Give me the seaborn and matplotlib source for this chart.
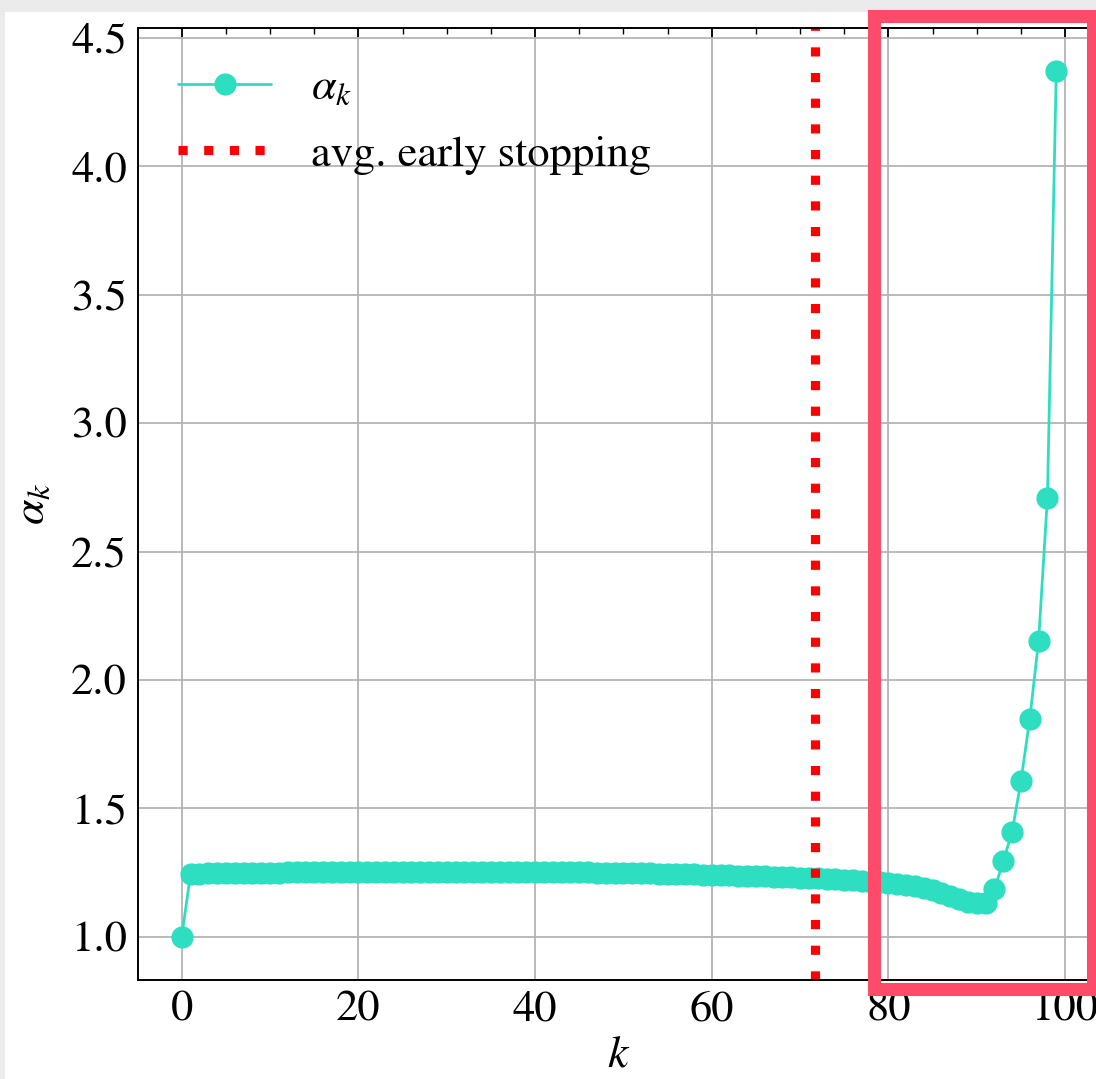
import numpy as np
import pandas as pd
import matplotlib
matplotlib.use("Agg")
import matplotlib.pyplot as plt
from matplotlib.patches import Rectangle
import seaborn as sns

# ---- data ----
k_values = list(range(100))
alpha_values = [
    1.000,
    1.245, 1.246, 1.247, 1.247, 1.248, 1.248, 1.249, 1.249, 1.250, 1.250,
    1.250, 1.251, 1.251, 1.251, 1.251, 1.252, 1.252, 1.252, 1.252, 1.252,
    1.252, 1.252, 1.253, 1.253, 1.253, 1.253, 1.253, 1.253, 1.253, 1.253,
    1.253, 1.253, 1.253, 1.253, 1.253, 1.253, 1.253, 1.253, 1.253, 1.253,
    1.252, 1.252, 1.252, 1.251, 1.251, 1.251, 1.250, 1.250, 1.249, 1.249,
    1.248, 1.248, 1.247, 1.246, 1.246, 1.245, 1.244, 1.243, 1.242, 1.241,
    1.240, 1.239, 1.238, 1.237, 1.236, 1.235, 1.234, 1.232, 1.231, 1.230,
    1.228, 1.227, 1.225, 1.223, 1.222, 1.220, 1.218, 1.215, 1.213, 1.210,
    1.206, 1.202, 1.197, 1.190, 1.181, 1.171, 1.160, 1.148, 1.137, 1.130,
    1.130, 1.184, 1.294, 1.408, 1.606, 1.848, 2.153, 2.710, 4.370,
]
early_stop_k = 71.7
series_label = r"$\alpha_k$"
vline_label = "avg. early stopping"
x_label = r"$k$"
y_label = r"$\alpha_k$"

df = pd.DataFrame({"k": k_values, "alpha": alpha_values})

# ---- style ----
sns.set_style("white")
plt.rcParams.update({
    "font.family": ["STIXGeneral", "Liberation Serif", "DejaVu Serif"],
    "mathtext.fontset": "stix",
    "text.color": "black",
    "axes.labelcolor": "black",
    "xtick.color": "black",
    "ytick.color": "black",
    "xtick.direction": "in",
    "ytick.direction": "in",
    "xtick.top": True,
    "ytick.right": True,
    "xtick.minor.visible": True,
    "ytick.minor.visible": True,
    "xtick.major.size": 7,
    "ytick.major.size": 7,
    "xtick.minor.size": 4,
    "ytick.minor.size": 4,
    "xtick.major.width": 1.3,
    "ytick.major.width": 1.3,
    "xtick.minor.width": 1.0,
    "ytick.minor.width": 1.0,
    "axes.linewidth": 1.4,
    "axes.edgecolor": "black",
})

W, H = 1096, 1079
fig = plt.figure(figsize=(W / 100, H / 100), dpi=100)
fig.patch.set_facecolor("white")

# screenshot gray bands
fig.add_artist(Rectangle((0, 1 - 12 / H), 1, 12 / H, transform=fig.transFigure,
                         facecolor="#ebebeb", edgecolor="none", zorder=0))
fig.add_artist(Rectangle((0, 0), 5 / W, 1, transform=fig.transFigure,
                         facecolor="#ebebeb", edgecolor="none", zorder=0))

ax_left, ax_right = 138, 1100
ax_top, ax_bottom = 28, 980
ax = fig.add_axes([ax_left / W, 1 - ax_bottom / H,
                   (ax_right - ax_left) / W, (ax_bottom - ax_top) / H])

line_color = "#2edec0"
sns.lineplot(data=df, x="k", y="alpha", ax=ax, color=line_color, linewidth=2.0,
             marker="o", markersize=16, markeredgewidth=0, label=series_label)
ax.axvline(early_stop_k, color="red", linestyle=(0, (1.0, 1.8)), linewidth=6.6,
           label=vline_label)

ax.xaxis.set_major_locator(matplotlib.ticker.MultipleLocator(20))
ax.xaxis.set_minor_locator(matplotlib.ticker.MultipleLocator(5))
ax.yaxis.set_major_locator(matplotlib.ticker.MultipleLocator(0.5))
ax.yaxis.set_minor_locator(matplotlib.ticker.MultipleLocator(0.1))
ax.yaxis.set_major_formatter(matplotlib.ticker.FormatStrFormatter("%.1f"))
ax.grid(True, which="major", color="#b4b4b4", linewidth=1.3)
ax.tick_params(labelsize=32, pad=8)

ax.set_xlabel(x_label, fontsize=33, labelpad=4)
ax.set_ylabel(y_label, fontsize=33, labelpad=12)

leg = ax.legend(loc="upper left", frameon=False, fontsize=32,
                handlelength=2.1, handletextpad=0.9, labelspacing=0.6,
                borderaxespad=0.5)

# highlight box
bx0, bx1, by0, by1 = 874, 1093, 15.5, 989
fig.add_artist(Rectangle((bx0 / W, 1 - by1 / H), (bx1 - bx0) / W, (by1 - by0) / H,
                         transform=fig.transFigure, fill=False,
                         edgecolor="#ff4b6a", linewidth=9.4, zorder=10))

fig.savefig("out.png", dpi=100)
